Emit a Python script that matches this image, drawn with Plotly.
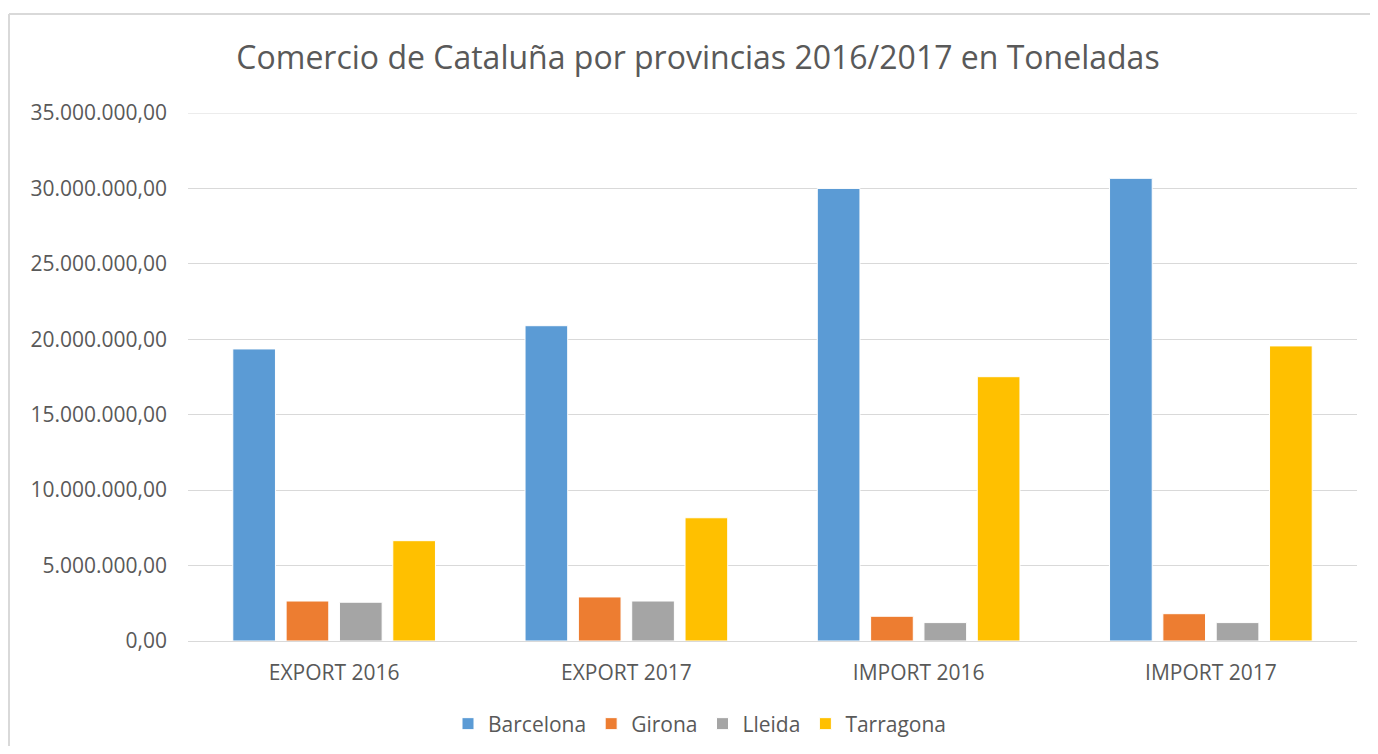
import plotly.graph_objects as go

categories = ["EXPORT 2016", "EXPORT 2017", "IMPORT 2016", "IMPORT 2017"]
barcelona = [19360000, 20900000, 30000000, 30670000]
girona = [2650000, 2920000, 1640000, 1810000]
lleida = [2570000, 2650000, 1220000, 1220000]
tarragona = [6650000, 8170000, 17520000, 19560000]

series = [("Barcelona", barcelona, "#5B9BD5"),
          ("Girona", girona, "#ED7D31"),
          ("Lleida", lleida, "#A5A5A5"),
          ("Tarragona", tarragona, "#FFC000")]

fig = go.Figure()
for name, vals, col in series:
    fig.add_trace(go.Bar(x=categories, y=vals, name=name, marker_color=col,
                         marker_line_color="white", marker_line_width=1))

OFF = 8  # page body margin
W, H = 1378 - 2 * OFF, 754 - 2 * OFF
L, T = 188 - OFF, 113 - OFF
R = (OFF + W) - 1357
B = (OFF + H) - 641
pw, ph = W - L - R, H - T - B

fig.update_layout(
    width=W, height=H,
    margin=dict(l=L, r=R, t=T, b=B),
    paper_bgcolor="white", plot_bgcolor="white",
    separators=",.",
    barmode="group", bargap=0.27, bargroupgap=0.2,
    font=dict(family="Open Sans", color="#595959"),
    title=dict(text="Comercio de Cataluña por provincias 2016/2017 en Toneladas",
               x=(698 - OFF) / W, xanchor="center", y=1 - (58 - OFF) / H, yanchor="middle",
               font=dict(size=32, color="#595959")),
    legend=dict(orientation="h", xref="container", yref="container",
                x=(700 - OFF) / W, xanchor="center", y=1 - (724 - OFF) / H, yanchor="middle",
                font=dict(size=21, color="#595959"), itemwidth=30,
                traceorder="normal"),
    yaxis=dict(range=[0, 35000000], dtick=5000000, tickformat=",.2f",
               gridcolor="#D9D9D9", gridwidth=1, zeroline=False,
               showline=False, ticks="", ticklen=0, ticklabelstandoff=20,
               tickfont=dict(size=21, color="#595959")),
    xaxis=dict(showline=True, linecolor="#D9D9D9", linewidth=1, ticks="",
               ticklabelstandoff=13,
               tickfont=dict(size=21, color="#595959")),
    showlegend=True,
)

# top gridline at the range end
fig.add_shape(type="line", xref="paper", yref="y", x0=0, x1=1,
              y0=35000000, y1=35000000, line=dict(color="#D9D9D9", width=1),
              layer="below")

# outer chart border (top and left visible)
x_left = (9 - OFF - L) / pw
y_top = (H - B - (14 - OFF)) / ph
fig.add_shape(type="line", xref="paper", yref="paper", x0=x_left, x1=(W - L) / pw,
              y0=y_top, y1=y_top, line=dict(color="#D9D9D9", width=2))
fig.add_shape(type="line", xref="paper", yref="paper", x0=x_left, x1=x_left,
              y0=y_top, y1=-B / ph, line=dict(color="#D9D9D9", width=2))

fig.write_html("out.html")
